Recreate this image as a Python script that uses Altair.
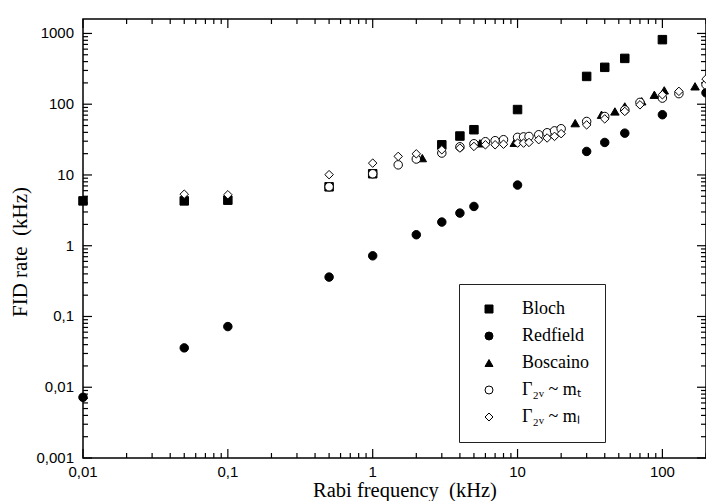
import altair as alt
import pandas as pd

# ---------------- data ----------------
series_names = ["Bloch", "Redfield", "Boscaino", "Γ₂ᵥ ~ mₜ", "Γ₂ᵥ ~ mₗ"]
series_shapes = ["square", "circle", "triangle-up", "circle", "diamond"]
series_fills = ["black", "black", "black", "white", "white"]

bloch_x = [0.01, 0.05, 0.1, 0.5, 1, 3, 4, 5, 10, 30, 40, 55, 100]
bloch_y = [4.3, 4.3, 4.4, 6.8, 10.4, 26.7, 35.5, 43.6, 84, 247, 332, 444, 817]

redfield_x = [0.01, 0.05, 0.1, 0.5, 1, 2, 3, 4, 5, 10, 30, 40, 55, 100, 200]
redfield_y = [0.0072, 0.036, 0.072, 0.36, 0.72, 1.43, 2.16, 2.89, 3.59, 7.2,
              21.5, 28.8, 39, 71, 145]

boscaino_x = [2.2, 5.5, 9.5, 25, 38, 47, 55, 72, 88, 103, 168]
boscaino_y = [17.3, 28, 28.5, 54, 71, 79, 93, 110, 136, 157, 179]

mt_x = [0.5, 1, 1.5, 2, 3, 4, 5, 6, 7, 8, 10, 11, 12, 14, 16, 18, 20,
        30, 40, 55, 70, 100, 130, 200]
mt_y = [6.8, 10.4, 13.9, 16.8, 20.4, 25, 27.6, 29.5, 30.5, 31.5, 34, 34.5, 35,
        37, 39.5, 42, 45, 57, 67, 83, 106, 122, 141, 189]

ml_x = [0.05, 0.1, 0.5, 1, 1.5, 2, 3, 4, 5, 6, 7, 8, 10, 11, 12, 14, 16, 18, 20,
        30, 40, 55, 70, 100, 130, 200]
ml_y = [5.35, 5.25, 10.1, 14.7, 18.3, 19.9, 22.7, 24.0, 25.3, 26.7, 26.7, 27.2,
        28.2, 28.2, 28.8, 31.5, 33.3, 35.1, 38.3, 51, 62, 79, 98, 136, 152, 227]

x_domain = [0.01, 200]
y_domain = [0.001, 1600]
x_major = [0.01, 0.1, 1, 10, 100]
x_labels = ["0,01", "0,1", "1", "10", "100"]
y_major = [0.001, 0.01, 0.1, 1, 10, 100, 1000]
y_labels = ["0,001", "0,01", "0,1", "1", "10", "100", "1000"]
minor_multipliers = [2, 3, 4, 5, 6, 7, 8, 9]

x_title = "Rabi frequency\u00a0 (kHz)"
y_title = "FID rate\u00a0 (kHz)"

x_minor = [round(d * m, 6) for d in x_major for m in minor_multipliers if d * m <= x_domain[1]]
y_minor = [round(d * m, 6) for d in y_major for m in minor_multipliers if d * m <= y_domain[1]]

rows = []
for name, xs, ys in zip(series_names,
                        [bloch_x, redfield_x, boscaino_x, mt_x, ml_x],
                        [bloch_y, redfield_y, boscaino_y, mt_y, ml_y]):
    for xv, yv in zip(xs, ys):
        rows.append({"series": name, "x": xv, "y": yv})
df = pd.DataFrame(rows)

# ---------------- layout / styling ----------------
W, H = 623, 439
MAJOR_LEN, MINOR_LEN = 9, 5
TICK_FONT, TITLE_FONT = "Liberation Sans", "Liberation Serif"
VERTICAL_STROKE = "M0,-1L0,1"
HORIZONTAL_STROKE = "M-1,0L1,0"

xscale = alt.Scale(type="log", domain=x_domain, nice=False)
yscale = alt.Scale(type="log", domain=y_domain, nice=False)

legend = alt.Legend(
    orient="none", legendX=376, legendY=265, title=None,
    padding=16, symbolOffset=5, labelOffset=24, rowPadding=9,
    labelFont=TITLE_FONT, labelFontSize=18, labelColor="black",
    strokeColor="#222", symbolSize=64, symbolStrokeWidth=1,
)

points = alt.Chart(df).mark_point(
    filled=True, size=72, strokeWidth=1, opacity=1
).encode(
    x=alt.X("x:Q", scale=xscale, axis=None),
    y=alt.Y("y:Q", scale=yscale, axis=None),
    shape=alt.Shape("series:N", scale=alt.Scale(domain=series_names, range=series_shapes), legend=legend),
    fill=alt.Fill("series:N", scale=alt.Scale(domain=series_names, range=series_fills), legend=legend),
    stroke=alt.Stroke("series:N", scale=alt.Scale(domain=series_names, range=["black"] * 5), legend=legend),
)


def inward_ticks(values, channel, side, length):
    """Short strokes just inside the frame, positioned by the shared log scales."""
    field = f"{channel}_{side}_{length}"
    tdf = pd.DataFrame({field: values})
    half = length / 2
    if channel == "x":
        centre = half if side == "top" else H - half
        enc = dict(x=alt.X(f"{field}:Q", scale=xscale, axis=None), y=alt.value(centre))
        shape = VERTICAL_STROKE
    else:
        centre = half if side == "left" else W - half
        enc = dict(y=alt.Y(f"{field}:Q", scale=yscale, axis=None), x=alt.value(centre))
        shape = HORIZONTAL_STROKE
    return alt.Chart(tdf).mark_point(
        shape=shape, size=length * length, filled=False,
        stroke="black", strokeWidth=1.2, opacity=1,
    ).encode(**enc)


tick_layers = []
for side in ["bottom", "top"]:
    tick_layers.append(inward_ticks(x_major, "x", side, MAJOR_LEN))
    tick_layers.append(inward_ticks(x_minor, "x", side, MINOR_LEN))
for side in ["left", "right"]:
    tick_layers.append(inward_ticks(y_major, "y", side, MAJOR_LEN))
    tick_layers.append(inward_ticks(y_minor, "y", side, MINOR_LEN))

# tick labels, placed by the same scales
x_tick_labels = alt.Chart(pd.DataFrame({"xl": x_major, "xlabel": x_labels})).mark_text(
    font=TICK_FONT, fontSize=15, color="black", align="center", baseline="top"
).encode(x=alt.X("xl:Q", scale=xscale, axis=None), y=alt.value(H + 7), text="xlabel:N")

y_tick_labels = alt.Chart(pd.DataFrame({"yl": y_major, "ylabel": y_labels})).mark_text(
    font=TICK_FONT, fontSize=15, color="black", align="right", baseline="middle"
).encode(y=alt.Y("yl:Q", scale=yscale, axis=None), x=alt.value(-9), text="ylabel:N")

# axis titles
x_title_mark = alt.Chart(pd.DataFrame({"xt": [x_title]})).mark_text(
    font=TITLE_FONT, fontSize=20.5, color="black", align="center", baseline="alphabetic"
).encode(x=alt.value(322), y=alt.value(H + 39), text="xt:N")

y_title_mark = alt.Chart(pd.DataFrame({"yt": [y_title]})).mark_text(
    font=TITLE_FONT, fontSize=21, color="black", align="center", baseline="alphabetic", angle=270
).encode(x=alt.value(-56), y=alt.value(233), text="yt:N")

chart = alt.layer(
    x_tick_labels, y_tick_labels, x_title_mark, y_title_mark, *tick_layers, points
).properties(
    width=W, height=H,
    padding={"left": 83, "top": 19, "right": 0, "bottom": 43},
    autosize=alt.AutoSizeParams(type="none"),
    background="white",
).configure_view(stroke="black", strokeWidth=1.5)

chart.save("out.html", embed_options={"renderer": "svg", "actions": False})
